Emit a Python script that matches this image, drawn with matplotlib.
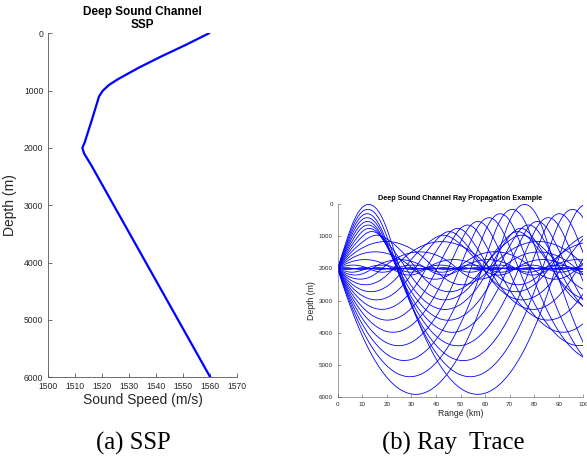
import numpy as np
import matplotlib
matplotlib.use("Agg")
import matplotlib.pyplot as plt

# Sound speed profile (depth in m, speed in m/s)
ssp_depth = [0, 200, 400, 600, 800, 900, 1000, 1100, 1500, 1900, 2000, 2100, 2300, 6000]
ssp_speed = [1559.5, 1551.0, 1542.0, 1533.5, 1525.8, 1522.5, 1520.2, 1518.8,
             1516.2, 1513.5, 1512.6, 1513.3, 1515.9, 1560.0]

# Ray fan settings
source_depth = 2000.0          # m
launch_angles_deg = [-14, -13, -12, -11, -10, -9, -8, -7, -6, -5, -4, -3, -2, -1, 0,
                     1, 2, 3, 4, 5, 6, 7, 8, 9, 10, 11, 12, 13, 14]
max_range_km = 100.0
bottom_depth = 6000.0

ssp_ticks_x = [1500, 1510, 1520, 1530, 1540, 1550, 1560, 1570]
depth_ticks = [0, 1000, 2000, 3000, 4000, 5000, 6000]
range_ticks = [0, 10, 20, 30, 40, 50, 60, 70, 80, 90, 100]

zd = np.asarray(ssp_depth, float)
cs = np.asarray(ssp_speed, float)
grad = np.diff(cs) / np.diff(zd)


def sound_speed(z):
    return np.interp(z, zd, cs)


def sound_grad(z):
    idx = np.clip(np.searchsorted(zd, z, side="right") - 1, 0, len(grad) - 1)
    return grad[idx]


def trace_rays(angles_deg, z0, rmax, ds=25.0):
    th = np.deg2rad(np.asarray(angles_deg, float))
    c0 = sound_speed(np.full(th.shape, z0))
    r = np.zeros_like(th)
    z = np.full(th.shape, z0)
    xi = np.cos(th) / c0
    zeta = -np.sin(th) / c0      # positive angle = upward launch
    rs, zs = [r.copy()], [z.copy()]

    def deriv(z_, zeta_):
        c = sound_speed(z_)
        dc = sound_grad(z_)
        return c * xi, c * zeta_, -dc / c ** 2

    while r.min() < rmax:
        k1 = deriv(z, zeta)
        k2 = deriv(z + 0.5 * ds * k1[1], zeta + 0.5 * ds * k1[2])
        k3 = deriv(z + 0.5 * ds * k2[1], zeta + 0.5 * ds * k2[2])
        k4 = deriv(z + ds * k3[1], zeta + ds * k3[2])
        r = r + ds / 6 * (k1[0] + 2 * k2[0] + 2 * k3[0] + k4[0])
        z = z + ds / 6 * (k1[1] + 2 * k2[1] + 2 * k3[1] + k4[1])
        zeta = zeta + ds / 6 * (k1[2] + 2 * k2[2] + 2 * k3[2] + k4[2])
        top = z < 0
        z[top] = -z[top]; zeta[top] = -zeta[top]
        bot = z > bottom_depth
        z[bot] = 2 * bottom_depth - z[bot]; zeta[bot] = -zeta[bot]
        rs.append(r.copy()); zs.append(z.copy())
    return np.array(rs), np.array(zs)


W, H = 587, 466
fig = plt.figure(figsize=(W / 100, H / 100), dpi=100)
plt.rcParams["font.family"] = ["Liberation Sans", "DejaVu Sans"]
axis_col = "#262626"


def style_axes(ax, tick_size, lw):
    for s in ("top", "right"):
        ax.spines[s].set_visible(False)
    for s in ("left", "bottom"):
        ax.spines[s].set_color("#555555")
        ax.spines[s].set_linewidth(lw)
    ax.tick_params(direction="in", length=3, width=lw, colors="#555555",
                   labelcolor=axis_col, labelsize=tick_size)


# --- Sound speed profile ---
ax1 = fig.add_axes([48.3 / W, 1 - 377.3 / H, 189 / W, 344 / H])
ax1.plot(ssp_speed, ssp_depth, color="#0000ff", lw=1.6, solid_joinstyle="round")
ax1.set_xlim(1500, 1570)
ax1.set_ylim(6000, 0)
ax1.set_xticks(ssp_ticks_x)
ax1.set_yticks(depth_ticks)
style_axes(ax1, 6.2, 0.6)
ax1.set_xlabel("Sound Speed (m/s)", fontsize=10, color=axis_col, labelpad=1)
ax1.set_ylabel("Depth (m)", fontsize=10, color=axis_col, labelpad=5)
ax1.set_title("Deep Sound Channel\nSSP", fontsize=8.5, fontweight="bold",
              color="black", pad=4, linespacing=1.05)

# --- Ray trace ---
ax2 = fig.add_axes([337.7 / W, 1 - 397.3 / H, 245.6 / W, 193.3 / H])
R, Z = trace_rays(launch_angles_deg, source_depth, max_range_km * 1000.0)
for i in range(R.shape[1]):
    m = R[:, i] <= max_range_km * 1000.0
    ax2.plot(R[m, i] / 1000.0, Z[m, i], color="#0000ff", lw=0.6)
ax2.set_xlim(0, max_range_km)
ax2.set_ylim(6000, 0)
ax2.set_xticks(range_ticks)
ax2.set_yticks(depth_ticks)
style_axes(ax2, 4.5, 0.4)
ax2.tick_params(length=2)
ax2.set_xlabel("Range (km)", fontsize=6.2, color=axis_col, labelpad=1)
ax2.set_ylabel("Depth (m)", fontsize=6.3, color=axis_col, labelpad=2)
ax2.set_title("Deep Sound Channel Ray Propagation Example", fontsize=5.2,
              fontweight="bold", color="black", pad=3)

# Sub-figure captions
fig.text(133 / W, 1 - 443 / H, "(a) SSP", fontsize=17.8, family="Liberation Serif",
         ha="center", va="center")
fig.text(453 / W, 1 - 443 / H, "(b) Ray  Trace", fontsize=17.8, family="Liberation Serif",
         ha="center", va="center")

fig.savefig("out.png", dpi=100)
